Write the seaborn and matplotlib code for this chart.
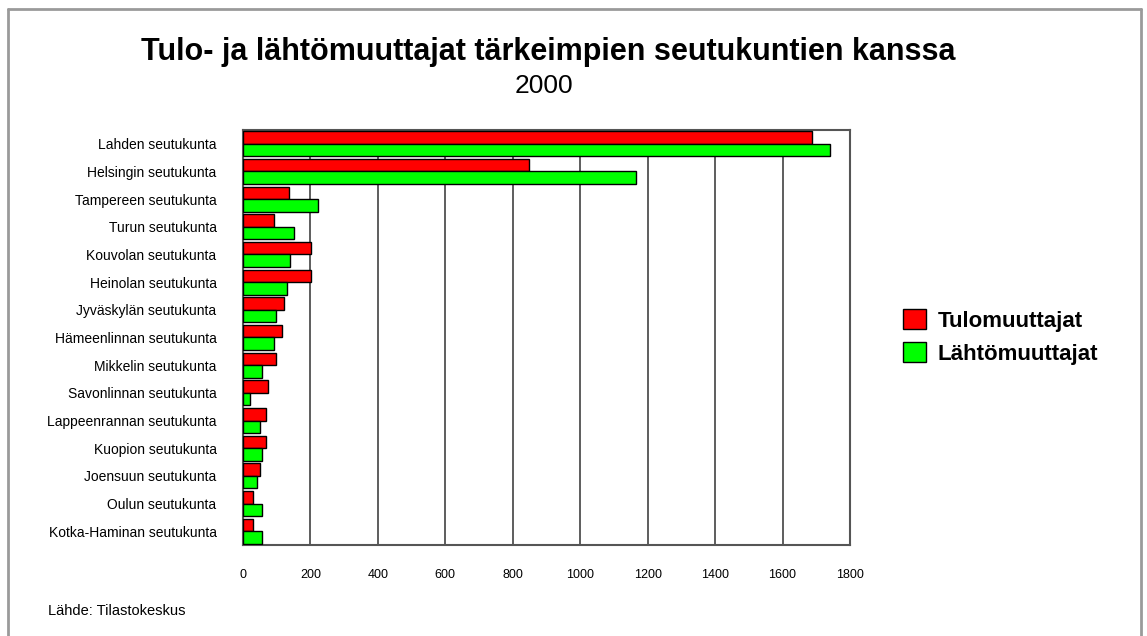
import matplotlib
matplotlib.use("Agg")
import matplotlib.pyplot as plt
import seaborn as sns
import pandas as pd
from matplotlib.lines import Line2D
from matplotlib.patches import Patch

regions = ["Lahden seutukunta", "Helsingin seutukunta", "Tampereen seutukunta",
           "Turun seutukunta", "Kouvolan seutukunta", "Heinolan seutukunta",
           "Jyväskylän seutukunta", "Hämeenlinnan seutukunta", "Mikkelin seutukunta",
           "Savonlinnan seutukunta", "Lappeenrannan seutukunta", "Kuopion seutukunta",
           "Joensuun seutukunta", "Oulun seutukunta", "Kotka-Haminan seutukunta"]
tulo = [1688, 849, 136, 93, 202, 202, 122, 116, 99, 75, 69, 69, 50, 30, 30]
lahto = [1742, 1166, 222, 151, 139, 131, 98, 92, 56, 22, 50, 56, 42, 56, 56]
series = ["Tulomuuttajat", "Lähtömuuttajat"]
xticks = [0, 200, 400, 600, 800, 1000, 1200, 1400, 1600, 1800]

df = pd.DataFrame({
    "region": regions * 2,
    "value": tulo + lahto,
    "series": [series[0]] * len(regions) + [series[1]] * len(regions),
})

sns.set_theme(style="white")
plt.rcParams["font.family"] = ["Liberation Sans", "DejaVu Sans"]
plt.rcParams["text.color"] = "black"
plt.rcParams["xtick.color"] = "black"
plt.rcParams["ytick.color"] = "black"

fig = plt.figure(figsize=(11.47, 6.36), dpi=100)
ax = fig.add_axes([243 / 1147, 1 - 545 / 636, (850 - 243) / 1147, (545 - 130) / 636])

sns.barplot(data=df, y="region", x="value", hue="series", hue_order=series,
            order=regions, orient="h", palette=["#ff0000", "#00ff00"], saturation=1,
            width=0.9, edgecolor="black", linewidth=1, ax=ax, legend=False, zorder=3)

ax.set_xlim(0, 1800)
ax.set_xticks(xticks)
ax.set_xticklabels([str(t) for t in xticks], fontsize=9)
ax.tick_params(axis="x", length=0, pad=17)
ax.tick_params(axis="y", length=0, pad=19, labelsize=10)
ax.set_xlabel("")
ax.set_ylabel("")
ax.xaxis.grid(True, color="#505050", linewidth=1.3, zorder=0)
ax.yaxis.grid(False)
ax.set_axisbelow(True)
for s in ax.spines.values():
    s.set_color("#555555")
    s.set_linewidth(1.5)
    s.set_visible(True)

fig.text(548 / 1147, 1 - 52 / 636, "Tulo- ja lähtömuuttajat tärkeimpien seutukuntien kanssa",
         ha="center", va="center", fontsize=22, fontweight="bold")
fig.text(544 / 1147, 1 - 86 / 636, "2000", ha="center", va="center", fontsize=19)
fig.text(48 / 1147, 1 - 611 / 636, "Lähde: Tilastokeskus", ha="left", va="center", fontsize=10.5)

handles = [Patch(facecolor="#ff0000", edgecolor="black", linewidth=1),
           Patch(facecolor="#00ff00", edgecolor="black", linewidth=1)]
fig.legend(handles, series, loc="center left", bbox_to_anchor=(903 / 1147, 1 - 337 / 636),
           frameon=False, prop={"weight": "bold", "size": 16},
           handlelength=1.05, handleheight=1.0, handletextpad=0.5, labelspacing=0.45,
           borderpad=0, borderaxespad=0)

# outer frame
fc = "#9a9a9a"
fig.add_artist(Line2D([8 / 1147, 1141 / 1147], [1 - 9 / 636, 1 - 9 / 636], transform=fig.transFigure, color=fc, lw=2))
fig.add_artist(Line2D([8 / 1147, 8 / 1147], [0, 1 - 9 / 636], transform=fig.transFigure, color=fc, lw=2))
fig.add_artist(Line2D([1141 / 1147, 1141 / 1147], [0, 1 - 9 / 636], transform=fig.transFigure, color=fc, lw=2))

fig.savefig("out.png", dpi=100)
